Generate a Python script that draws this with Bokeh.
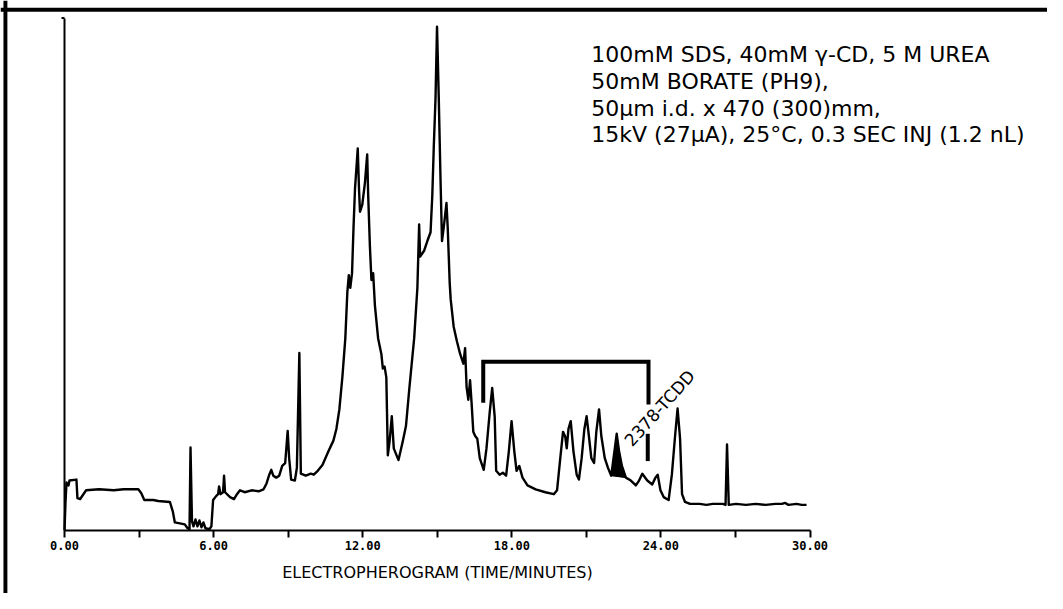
from bokeh.plotting import figure
from bokeh.models import (LinearAxis, FixedTicker, NumeralTickFormatter, Range1d,
                          Label, BoxAnnotation, ColumnDataSource)
from bokeh.embed import file_html
from bokeh.resources import INLINE

# ---- data (time in minutes, signal in arbitrary units) ----
time_min = [0.00, 0.04, 0.08, 0.16, 0.20, 0.48, 0.52, 0.63, 0.87, 1.39,
            1.98, 2.38, 2.97, 3.09, 3.21, 3.57, 3.77, 4.24, 4.36, 4.44,
            4.84, 4.95, 5.03, 5.07, 5.13, 5.19, 5.27, 5.35, 5.43, 5.51,
            5.59, 5.67, 5.83, 5.91, 5.98, 6.10, 6.18, 6.22, 6.28, 6.38,
            6.42, 6.46, 6.66, 6.82, 6.94, 7.06, 7.25, 7.53, 7.81, 8.01,
            8.13, 8.24, 8.32, 8.40, 8.52, 8.64, 8.76, 8.88, 8.98, 9.04,
            9.12, 9.27, 9.35, 9.45, 9.51, 9.71, 9.91, 10.03, 10.19, 10.38,
            10.62, 10.82, 10.94, 11.06, 11.18, 11.30, 11.38, 11.44, 11.50, 11.57,
            11.63, 11.69, 11.80, 11.85, 11.89, 11.98, 12.09, 12.18, 12.22, 12.29,
            12.35, 12.42, 12.49, 12.62, 12.75, 12.81, 12.88, 12.95, 13.01, 13.08,
            13.17, 13.25, 13.44, 13.61, 13.74, 13.87, 14.07, 14.20, 14.27, 14.31,
            14.47, 14.60, 14.73, 14.80, 14.86, 14.93, 14.99, 15.06, 15.13, 15.19,
            15.26, 15.37, 15.42, 15.50, 15.54, 15.66, 15.79, 15.92, 16.05, 16.12,
            16.18, 16.25, 16.32, 16.38, 16.45, 16.52, 16.61, 16.71, 16.87, 16.98,
            17.11, 17.21, 17.31, 17.37, 17.51, 17.64, 17.77, 17.88, 17.99, 18.10,
            18.19, 18.30, 18.43, 18.63, 18.96, 19.35, 19.69, 19.82, 19.95, 20.06,
            20.15, 20.21, 20.28, 20.37, 20.48, 20.61, 20.70, 20.81, 20.92, 21.01,
            21.10, 21.20, 21.31, 21.40, 21.51, 21.60, 21.74, 21.87, 22.00, 22.12,
            22.22, 22.31, 22.43, 22.59, 22.79, 22.99, 23.12, 23.25, 23.45, 23.65,
            23.78, 23.87, 23.98, 24.11, 24.31, 24.44, 24.57, 24.67, 24.77, 24.85,
            24.97, 25.17, 25.56, 25.83, 26.09, 26.49, 26.60, 26.66, 26.73, 27.02,
            27.42, 27.81, 28.21, 28.61, 28.87, 29.00, 29.13, 29.46, 29.66, 29.86]

signal = [0.1, 5.9, 9.9, 9.3, 10.3, 10.5, 6.7, 6.5, 8.3, 8.5,
          8.3, 8.5, 8.5, 7.7, 6.3, 6.3, 6.1, 5.9, 3.9, 1.7,
          1.3, 0.5, 0.3, 17.1, 1.9, 0.9, 2.3, 0.9, 2.1, 0.7,
          1.7, 0.5, 0.3, 0.9, 6.3, 7.1, 7.5, 9.1, 7.5, 7.9,
          11.3, 7.9, 6.9, 6.5, 7.5, 8.3, 7.9, 8.3, 8.1, 8.5,
          9.7, 11.5, 12.5, 11.3, 10.9, 11.3, 13.3, 13.9, 20.5, 14.9,
          10.5, 10.3, 12.9, 36.5, 11.7, 11.3, 11.7, 11.5, 12.3, 13.5,
          16.3, 18.5, 20.9, 24.9, 31.5, 39.5, 48.9, 52.5, 49.9, 52.9,
          62.3, 70.3, 78.5, 70.3, 65.5, 66.9, 71.5, 77.3, 68.9, 58.3,
          51.5, 52.9, 46.3, 39.5, 36.3, 33.3, 33.7, 31.5, 15.5, 18.3,
          23.5, 16.9, 14.5, 18.3, 21.5, 28.9, 39.5, 49.9, 62.9, 56.3,
          57.5, 59.5, 61.3, 68.9, 78.9, 88.9, 103.5, 88.9, 72.3, 59.5,
          62.3, 67.3, 62.3, 50.9, 47.5, 41.9, 38.9, 36.3, 34.3, 37.5,
          29.5, 26.9, 30.9, 26.3, 20.3, 19.5, 18.9, 14.9, 12.5, 16.9,
          24.3, 29.3, 23.5, 12.3, 11.5, 11.9, 11.3, 16.3, 22.5, 16.3,
          12.3, 13.3, 10.9, 9.3, 8.5, 7.9, 7.5, 8.3, 14.9, 20.3,
          19.3, 16.9, 20.9, 22.5, 16.3, 11.5, 10.5, 14.9, 20.9, 23.5,
          19.5, 14.9, 13.9, 20.3, 24.9, 19.5, 14.9, 12.9, 11.3, 15.9,
          19.9, 16.5, 13.3, 10.9, 10.3, 9.3, 10.3, 11.7, 10.3, 9.5,
          10.9, 11.5, 8.3, 6.9, 6.3, 11.5, 19.5, 25.1, 18.9, 7.5,
          5.9, 5.5, 5.5, 5.3, 5.5, 5.5, 5.3, 17.7, 5.3, 5.5,
          5.3, 5.5, 5.3, 5.5, 5.5, 5.7, 5.3, 5.5, 5.3, 5.3]

# shaded 2378-TCDD peak window (minutes)
tcdd_window = [22.00, 22.59]

# bracket marking the tetra-CDD elution window
bracket_start = 16.85
bracket_end = 23.50
bracket_top = 34.7
bracket_left_bottom = 26.3
bracket_right_bottom = 25.9
tcdd_marker_time = 23.47
tcdd_marker_range = [14.3, 19.9]

major_ticks = [0, 6, 12, 18, 24, 30]
minor_ticks = [3, 9, 15, 21, 27]
y_axis_top = 105.3

conditions = ["100mM SDS, 40mM \u03b3-CD, 5 M UREA",
              "50mM BORATE (PH9),",
              "50\u03bcm i.d. x 470 (300)mm,",
              "15kV (27\u03bcA), 25\u00b0C, 0.3 SEC INJ (1.2 nL)"]
conditions_y = [97.9, 92.3, 86.8, 81.3]
conditions_x = 21.2

# ---- figure ----
W, H = 1047, 593
p = figure(width=W, height=H, output_backend="svg", toolbar_location=None,
           x_axis_location=None, y_axis_location=None,
           x_range=Range1d(-2.576, 39.556), y_range=Range1d(-12.9, 108.9),
           min_border_left=0, min_border_right=0, min_border_top=0, min_border_bottom=0)
p.outline_line_color = None
p.background_fill_color = "white"
p.border_fill_color = "white"
p.grid.visible = False

# page frame (thick left and top rules)
p.add_layout(BoxAnnotation(left=-2.457, right=-2.299, fill_color="black", fill_alpha=1.0, line_color=None))
p.add_layout(BoxAnnotation(bottom=106.6, top=107.4, fill_color="black", fill_alpha=1.0, line_color=None))

# x axis
xaxis = LinearAxis(fixed_location=0, bounds=(0, 30),
                   ticker=FixedTicker(ticks=major_ticks, minor_ticks=minor_ticks),
                   formatter=NumeralTickFormatter(format="0.00"),
                   axis_label="ELECTROPHEROGRAM (TIME/MINUTES)")
xaxis.axis_line_width = 2
xaxis.axis_line_color = "black"
xaxis.major_tick_line_width = 2
xaxis.minor_tick_line_width = 2
xaxis.major_tick_out = 7
xaxis.major_tick_in = 0
xaxis.minor_tick_out = 7
xaxis.minor_tick_in = 0
xaxis.major_label_standoff = 3
xaxis.major_label_text_font = "DejaVu Sans Mono"
xaxis.major_label_text_font_style = "bold"
xaxis.major_label_text_font_size = "12px"
xaxis.major_label_text_color = "black"
xaxis.axis_label_text_font = "DejaVu Sans"
xaxis.axis_label_text_font_style = "normal"
xaxis.axis_label_text_font_size = "16px"
xaxis.axis_label_text_color = "black"
xaxis.axis_label_standoff = 10
p.add_layout(xaxis, "below")

# y axis (plain line, no ticks)
yaxis = LinearAxis(fixed_location=0, bounds=(0, y_axis_top), ticker=FixedTicker(ticks=[]))
yaxis.axis_line_width = 2
yaxis.axis_line_color = "black"
yaxis.major_tick_line_color = None
yaxis.minor_tick_line_color = None
yaxis.major_label_text_font_size = "0px"
p.add_layout(yaxis, "left")
p.line(x=[-0.12, 0], y=[y_axis_top, y_axis_top], line_width=2, line_color="black")

# trace
src = ColumnDataSource(dict(t=time_min, s=signal))
p.line("t", "s", source=src, line_color="black", line_width=2.4, line_join="round")

# filled TCDD peak
tt = [t for t in time_min if tcdd_window[0] <= t <= tcdd_window[1]]
ss = [s for t, s in zip(time_min, signal) if tcdd_window[0] <= t <= tcdd_window[1]]
p.patch(tt, ss, fill_color="black", line_color="black", line_width=1)

# bracket
p.line(x=[bracket_start, bracket_start, bracket_end, bracket_end],
       y=[bracket_left_bottom, bracket_top, bracket_top, bracket_right_bottom],
       line_color="black", line_width=4, line_join="miter")
p.line(x=[tcdd_marker_time, tcdd_marker_time], y=tcdd_marker_range,
       line_color="black", line_width=4)

p.add_layout(Label(x=22.67, y=17.9, text="2378-TCDD", angle=0.838,
                   text_font="DejaVu Sans", text_font_size="17px", text_color="black",
                   text_align="left", text_baseline="alphabetic"))

for txt, yy in zip(conditions, conditions_y):
    p.add_layout(Label(x=conditions_x, y=yy, text=txt, text_font="DejaVu Sans",
                       text_font_size="22px", text_color="black",
                       text_align="left", text_baseline="alphabetic"))

open("out.html", "w").write(file_html(p, INLINE))
